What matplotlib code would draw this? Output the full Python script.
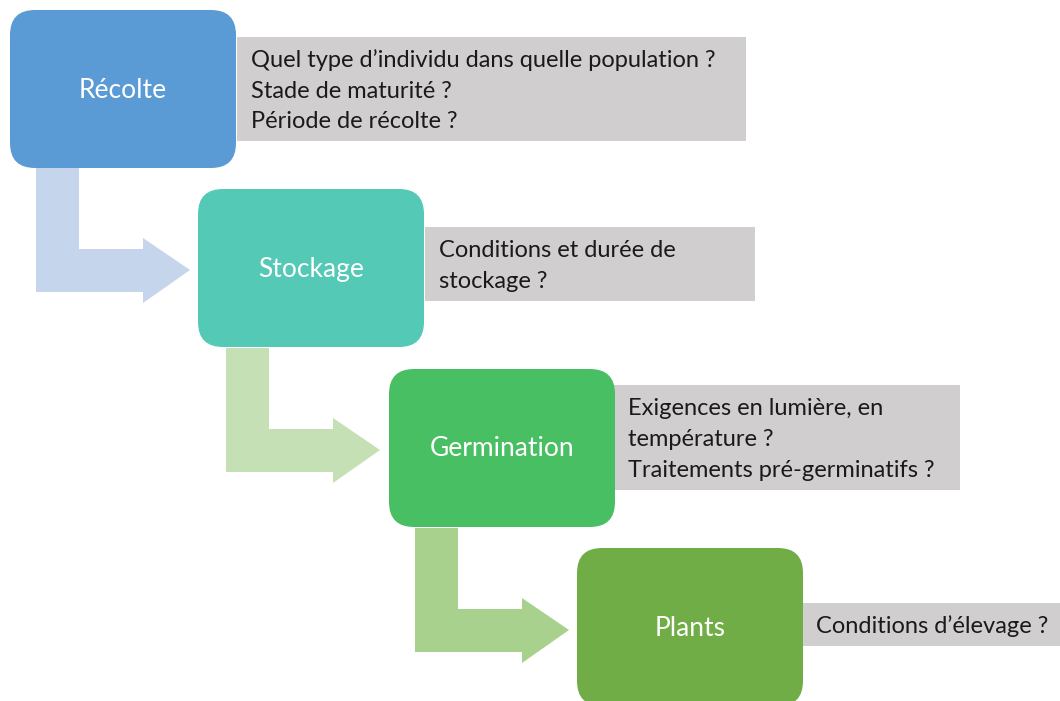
import matplotlib.pyplot as plt
from matplotlib.patches import FancyBboxPatch, Polygon

# steps of the process and the questions attached to each one
steps = ['Récolte', 'Stockage', 'Germination', 'Plants']
questions = [
    ['Quel type d\u2019individu dans quelle population ?', 'Stade de maturité ?', 'Période de récolte ?'],
    ['Conditions et durée de', 'stockage ?'],
    ['Exigences en lumière, en', 'température ?', 'Traitements pré-germinatifs ?'],
    ['Conditions d\u2019élevage ?'],
]

box_colors = ['#5B9BD5', '#53C9B6', '#49BF63', '#70AD47']
arrow_colors = ['#C5D5EB', '#C5E0B4', '#A9D18E']
note_color = '#D0CECE'

# layout in pixels (x, y from top-left)
box_xy = [(10, 10), (198, 189), (389, 369), (577, 548)]
box_w, box_h = 226, 158
note_boxes = [(237, 37, 509, 104), (425, 227, 330, 74), (614, 385, 346, 105), (802, 603, 258, 43)]
arrow_xy = [(36, 168), (226, 348), (415, 528)]

plt.rcParams['font.family'] = ['Lato', 'DejaVu Sans']

fig = plt.figure(figsize=(10.6, 7.01), dpi=100)
ax = fig.add_axes([0, 0, 1, 1])
ax.set_xlim(0, 1060)
ax.set_ylim(701, 0)
ax.axis('off')


def arrow_shape(x0, y0):
    # bent arrow: down from the box, then right to the next box
    return [(x0, y0), (x0 + 43, y0), (x0 + 43, y0 + 81), (x0 + 107, y0 + 81),
            (x0 + 107, y0 + 70), (x0 + 154, y0 + 102), (x0 + 107, y0 + 135),
            (x0 + 107, y0 + 124), (x0, y0 + 124)]


for i, (x0, y0) in enumerate(arrow_xy):
    ax.add_patch(Polygon(arrow_shape(x0, y0), closed=True, facecolor=arrow_colors[i],
                         edgecolor='none', zorder=1))

for i, name in enumerate(steps):
    nx, ny, nw, nh = note_boxes[i]
    ax.add_patch(plt.Rectangle((nx, ny), nw, nh, facecolor=note_color, edgecolor='none', zorder=1))
    lines = questions[i]
    spacing = 31
    y_start = ny + nh / 2 - spacing * (len(lines) - 1) / 2 + 2
    for j, line in enumerate(lines):
        ax.text(nx + 14, y_start + j * spacing, line, ha='left', va='center',
                fontsize=17, color='#1a1a1a', zorder=3)

    bx, by = box_xy[i]
    ax.add_patch(FancyBboxPatch((bx, by), box_w, box_h,
                                boxstyle='round,pad=0,rounding_size=25',
                                facecolor=box_colors[i], edgecolor='none', zorder=2))
    ax.text(bx + box_w / 2, by + box_h / 2 + 1, name, ha='center', va='center',
            fontsize=19, color='white', zorder=3)

fig.savefig('out.png', dpi=100)
